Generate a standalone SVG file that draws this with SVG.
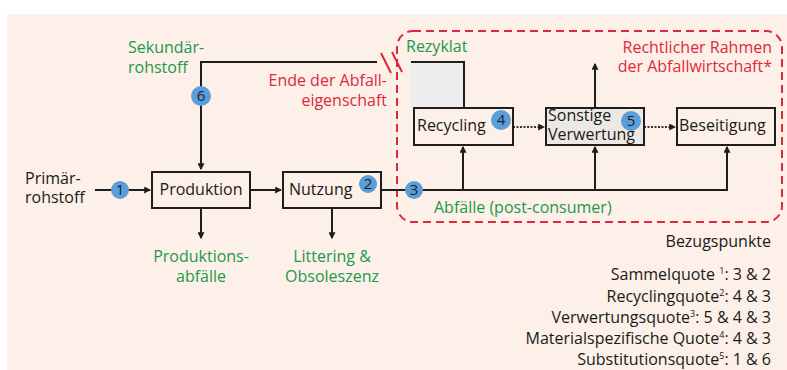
<svg xmlns="http://www.w3.org/2000/svg" width="787" height="370" viewBox="0 0 787 370">
<style>
text{font-family:"Open Sans","Noto Sans","DejaVu Sans",sans-serif;font-size:16px;fill:#1a1a1a}
.g{fill:#22994a}
.r{fill:#e0283c}
.box{fill:none;stroke:#1e1e1e;stroke-width:2}
.ln{fill:none;stroke:#1e1e1e;stroke-width:2}
.dot{fill:none;stroke:#333;stroke-width:2;stroke-dasharray:2 1.5}
.c{fill:#5b9fd6}
.ct{font-size:15px;fill:#14243c;text-anchor:middle}
.end{text-anchor:end}
.mid{text-anchor:middle}
sup{font-size:9px}
</style>
<defs>
<marker id="a" viewBox="0 0 6 6" refX="5" refY="3" markerWidth="3.5" markerHeight="3.5" orient="auto"><path d="M0,0L6,3L0,6z" fill="#1e1e1e"/></marker>
</defs>
<rect x="7" y="14" width="780" height="356" fill="#fcf0e8"/>
<rect id="rahmen" x="397" y="31" width="385" height="191" rx="16" fill="none" stroke="#e0283c" stroke-width="2" stroke-dasharray="8 5"/>
<g id="connectors">
<path class="ln" d="M95,190H150" marker-end="url(#a)"/>
<path class="ln" d="M250,190H281" marker-end="url(#a)"/>
<path class="ln" d="M381,190H727V147" marker-end="url(#a)"/>
<path class="ln" d="M463,190V147" marker-end="url(#a)"/>
<path class="ln" d="M595,190V147" marker-end="url(#a)"/>
<path class="ln" d="M595,108V64" marker-end="url(#a)"/>
<path class="ln" d="M377,62H201V169" marker-end="url(#a)"/>
<path class="ln" d="M201,208V238" marker-end="url(#a)"/>
<path class="ln" d="M332,208V238" marker-end="url(#a)"/>
<path class="dot" d="M513,127H544" marker-end="url(#a)"/>
<path class="dot" d="M644,127H675" marker-end="url(#a)"/>
<path d="M381,53L391,73M392,52L402,72" stroke="#e0283c" stroke-width="2"/>
</g>
<g id="rezyklat">
<rect x="411" y="62" width="53" height="46" fill="#eeeeee"/>
<path class="ln" d="M411,62H464V108"/>
<text x="406" y="52" class="g">Rezyklat</text>
</g>
<g id="produktion"><rect class="box" x="152" y="172" width="98" height="36"/><text x="201" y="195" class="mid">Produktion</text></g>
<g id="nutzung"><rect class="box" x="283" y="172" width="98" height="36"/><text x="289" y="195">Nutzung</text></g>
<g id="recycling"><rect class="box" x="414" y="108" width="99" height="37"/><text x="417" y="131">Recycling</text></g>
<g id="sonstige"><rect x="546" y="108" width="98" height="37" fill="#ece8e4" stroke="#1e1e1e" stroke-width="2"/><text x="548" y="121">Sonstige</text><text x="548" y="140">Verwertung</text></g>
<g id="beseitigung"><rect class="box" x="677" y="108" width="98" height="37"/><text x="679" y="131">Beseitigung</text></g>
<g id="p1"><circle class="c" cx="120" cy="190" r="9"/><text class="ct" x="120" y="195">1</text></g>
<g id="p2"><circle class="c" cx="368" cy="184" r="9"/><text class="ct" x="368" y="189">2</text></g>
<g id="p3"><circle class="c" cx="414" cy="190" r="9"/><text class="ct" x="414" y="195">3</text></g>
<g id="p4"><circle class="c" cx="501" cy="120" r="10"/><text class="ct" x="501" y="125">4</text></g>
<g id="p5"><circle class="c" cx="631" cy="121" r="10"/><text class="ct" x="631" y="126">5</text></g>
<g id="p6"><circle class="c" cx="201" cy="96" r="10"/><text class="ct" x="201" y="101">6</text></g>
<g id="labels">
<text x="25" y="184">Primär-</text>
<text x="25" y="203">rohstoff</text>
<text x="128" y="53" class="g">Sekundär-</text>
<text x="128" y="73" class="g">rohstoff</text>
<text x="387" y="86" class="r end">Ende der Abfall-</text>
<text x="387" y="106" class="r end">eigenschaft</text>
<text x="772" y="53" class="r end">Rechtlicher Rahmen</text>
<text x="772" y="72" class="r end">der Abfallwirtschaft*</text>
<text x="434" y="213" class="g">Abfälle (post-consumer)</text>
<text x="201" y="262" class="g mid">Produktions-</text>
<text x="201" y="282" class="g mid">abfälle</text>
<text x="332" y="262" class="g mid">Littering &amp;</text>
<text x="332" y="282" class="g mid">Obsoleszenz</text>
<text x="771" y="247" class="end">Bezugspunkte</text>
<text x="771" y="280" class="end">Sammelquote <tspan font-size="9" dy="-6">1</tspan><tspan dy="6">: 3 &amp; 2</tspan></text>
<text x="771" y="302" class="end">Recyclingquote<tspan font-size="9" dy="-6">2</tspan><tspan dy="6">: 4 &amp; 3</tspan></text>
<text x="771" y="323" class="end">Verwertungsquote<tspan font-size="9" dy="-6">3</tspan><tspan dy="6">: 5 &amp; 4 &amp; 3</tspan></text>
<text x="771" y="344" class="end">Materialspezifische Quote<tspan font-size="9" dy="-6">4</tspan><tspan dy="6">: 4 &amp; 3</tspan></text>
<text x="771" y="365" class="end">Substitutionsquote<tspan font-size="9" dy="-6">5</tspan><tspan dy="6">: 1 &amp; 6</tspan></text>
</g>
</svg>
